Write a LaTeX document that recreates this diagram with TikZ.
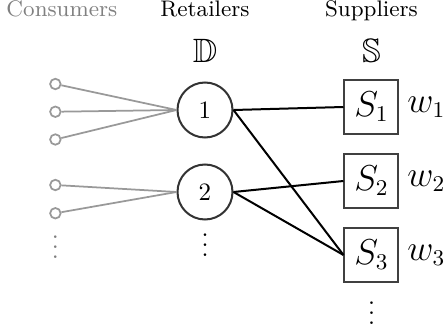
\documentclass[tikz,border=0pt]{standalone}
\usepackage{amssymb}
\usetikzlibrary{positioning}

\begin{document}
\begin{tikzpicture}[
        node distance=10pt and 44pt,
        retailer/.style={circle, draw=black!80, thick, minimum size=22pt, inner sep=0pt},
        supplier/.style={rectangle, draw=black!75, thick, minimum size=21.6pt, inner sep=0pt, font=\fontsize{13.5pt}{16pt}\selectfont},
        consumer/.style={circle, draw=black!40, line width=0.7pt, minimum size=4.2pt, inner sep=0pt},
        title/.style={font=\small, anchor=base},
        set/.style={font=\fontsize{13.5pt}{16pt}\selectfont},
        weight/.style={font=\fontsize{13.5pt}{16pt}\selectfont, inner sep=2pt},
        dotcol/.style={inner sep=0pt, anchor=base, font=\fontsize{11pt}{13pt}\selectfont},
        link/.style={thick},
        feed/.style={draw=black!40, line width=0.7pt}
    ]

    \useasboundingbox (0,0) rectangle (177.6pt,-131.2pt);

    % Retailers
    \node[retailer] (r1) at (82pt,-44pt) {$1$};
    \node[retailer, below=10pt of r1] (r2) {$2$};
    \node[dotcol] (rdots) at ([yshift=-14.3pt]r2.south) {$\vdots$};

    % Suppliers
    \node[supplier, right=of r1, yshift=1.2pt] (s1) {$S_1$};
    \node[supplier, below=7.2pt of s1] (s2) {$S_2$};
    \node[supplier, below=7.2pt of s2] (s3) {$S_3$};
    \node[dotcol] (sdots) at ([yshift=-16.8pt]s3.south) {$\vdots$};
    \node[weight, right=1pt of s1] (w1) {$w_1$};
    \node[weight, right=1pt of s2] (w2) {$w_2$};
    \node[weight, right=1pt of s3] (w3) {$w_3$};

    % Consumers
    \node[consumer, left=46pt of r1, yshift=10.4pt] (c1) {};
    \node[consumer, below=6.2pt of c1] (c2) {};
    \node[consumer, below=6.2pt of c2] (c3) {};
    \node[consumer, left=46pt of r2, yshift=2.8pt] (c4) {};
    \node[consumer, below=6.4pt of c4] (c5) {};
    \node[dotcol, text=black!50] (cdots) at ([yshift=-15.6pt]c5.south) {$\vdots$};

    % Sets and titles
    \node[set, above=3.9pt of r1] (setD) {$\mathbb{D}$};
    \node[set] (setS) at (s1 |- setD) {$\mathbb{S}$};
    \node[title, above=2.2pt of setD] (tr) {Retailers};
    \node[title] (ts) at (s1 |- tr.base) {Suppliers};
    \node[title, text=black!50, xshift=2.6pt] (tc) at (c1 |- tr.base) {Consumers};

    % Edges Consumers -> Retailers
    \draw[feed] (c1) -- (r1.west);
    \draw[feed] (c2) -- (r1.west);
    \draw[feed] (c3) -- (r1.west);
    \draw[feed] (c4) -- (r2.west);
    \draw[feed] (c5) -- (r2.west);

    % Edges Retailers -> Suppliers
    \draw[link] (r1.east) -- (s1.west);
    \draw[link] (r1.east) -- (s3.west);
    \draw[link] (r2.east) -- (s2.west);
    \draw[link] (r2.east) -- (s3.west);

\end{tikzpicture}
\end{document}
